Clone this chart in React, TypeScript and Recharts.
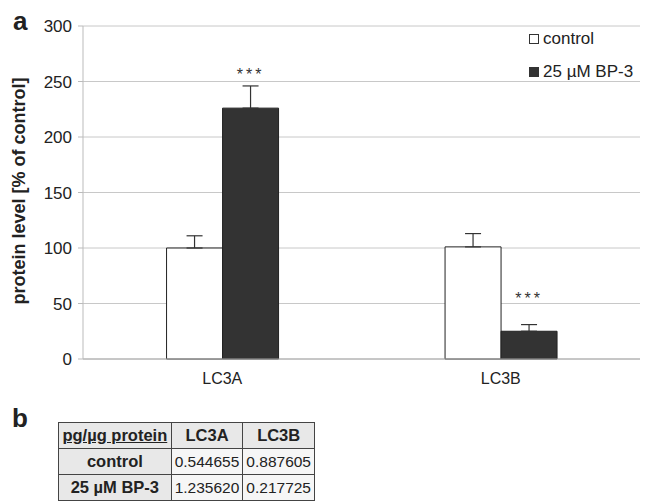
import React from 'react';
import { BarChart, Bar, XAxis, YAxis, CartesianGrid, ErrorBar, LabelList } from 'recharts';

const categories = ['LC3A', 'LC3B'];
const controlValues = [100, 101];
const controlErrors = [11, 12];
const bpValues = [226, 25];
const bpErrors = [20, 6];
const starLabels = ['***', '***'];
const starLevels = [255, 53];
const yTicks = [0, 50, 100, 150, 200, 250, 300];
const seriesNames = ['control', '25 µM BP-3'];

const tableHead = ['pg/µg protein', 'LC3A', 'LC3B'];
const tableRows = [
  ['control', '0.544655', '0.887605'],
  ['25 µM BP-3', '1.235620', '0.217725'],
];

const data = categories.map((name, i) => ({
  name,
  control: controlValues[i],
  controlErr: [0, controlErrors[i]],
  bp: bpValues[i],
  bpErr: [0, bpErrors[i]],
  star: starLabels[i],
}));

const FONT = '"Liberation Sans", Arial, Helvetica, sans-serif';

// puts the asterisks at a level in data units, using the bar's own pixel scale
const StarLabel = (props: any) => {
  const { x, y, width, height, index, value } = props;
  const unit = height / bpValues[index];
  const cy = y + height - starLevels[index] * unit;
  return (
    <text x={x + width / 2} y={cy} textAnchor="middle" dominantBaseline="middle"
      fontSize={16} fill="#333" letterSpacing={3} fontFamily={FONT}>
      {value}
    </text>
  );
};

const LegendBox = () => (
  <div style={{ position: 'absolute', left: 529, top: 22, fontFamily: FONT, fontSize: 17, color: '#222', lineHeight: '33px' }}>
    {seriesNames.map((n, i) => (
      <div key={n} style={{ display: 'flex', alignItems: 'center' }}>
        <span style={{
          display: 'inline-block', width: 8, height: 8, marginRight: 4,
          border: '1px solid #333', background: i === 0 ? '#fff' : '#333',
        }} />
        {n}
      </div>
    ))}
  </div>
);

const cell: React.CSSProperties = {
  border: '1px solid #444', padding: '0 3px', textAlign: 'center', height: 25, lineHeight: '25px',
};

export default function App() {
  return (
    <div style={{ position: 'absolute', left: 0, top: 0, width: 649, height: 503, background: '#fff', fontFamily: FONT }}>
      <div style={{ position: 'absolute', left: 13, top: 6, fontSize: 26, fontWeight: 'bold', color: '#222', lineHeight: '30px' }}>a</div>
      <div style={{
        position: 'absolute', left: 19, top: 191, transform: 'translate(-50%, -50%) rotate(-90deg)',
        whiteSpace: 'nowrap', fontSize: 18, fontWeight: 'bold', color: '#222',
      }}>protein level [% of control]</div>

      <BarChart width={649} height={400} data={data} barCategoryGap="30%" barGap={0}
        margin={{ top: 26, right: 9, bottom: 0, left: 0 }}
        style={{ position: 'absolute', left: 0, top: 0 }}>
        <CartesianGrid vertical={false} stroke="#c8c8c8" />
        <XAxis dataKey="name" height={41} tickLine={false} axisLine={{ stroke: '#aaa' }}
          tick={{ fontSize: 16, fill: '#222', fontFamily: FONT }} tickMargin={8} />
        <YAxis width={83} domain={[0, 300]} ticks={yTicks} interval={0} tickSize={5} tickMargin={6}
          axisLine={{ stroke: '#bbb' }} tickLine={{ stroke: '#bbb' }}
          tick={{ fontSize: 17, fill: '#222', fontFamily: FONT }} />
        <Bar dataKey="control" name={seriesNames[0]} fill="#fff" stroke="#222" strokeWidth={1} isAnimationActive={false}>
          <ErrorBar dataKey="controlErr" width={8} stroke="#333" strokeWidth={1.2} direction="y" />
        </Bar>
        <Bar dataKey="bp" name={seriesNames[1]} fill="#333" stroke="#222" strokeWidth={1} isAnimationActive={false}>
          <ErrorBar dataKey="bpErr" width={8} stroke="#333" strokeWidth={1.2} direction="y" />
          <LabelList dataKey="star" content={<StarLabel />} />
        </Bar>
      </BarChart>
      <LegendBox />

      <div style={{ position: 'absolute', left: 12, top: 403, fontSize: 26, fontWeight: 'bold', color: '#222', lineHeight: '30px' }}>b</div>
      <table style={{
        position: 'absolute', left: 58, top: 422, width: 257, borderCollapse: 'collapse',
        fontFamily: FONT, fontSize: 15, color: '#222',
      }}>
        <thead>
          <tr>
            {tableHead.map((h, i) => (
              <th key={h} style={{ ...cell, fontSize: 16.5, width: i === 0 ? 111 : 64, background: '#e8e8e8', textDecoration: i === 0 ? 'underline' : 'none' }}>{h}</th>
            ))}
          </tr>
        </thead>
        <tbody>
          {tableRows.map((r) => (
            <tr key={r[0]}>
              {r.map((c, j) => (
                <td key={j} style={{ ...cell, fontWeight: j === 0 ? 'bold' : 'normal', fontSize: j === 0 ? 16.5 : 15.5, background: j === 0 ? '#e8e8e8' : '#f6f6f6' }}>{c}</td>
              ))}
            </tr>
          ))}
        </tbody>
      </table>
    </div>
  );
}
